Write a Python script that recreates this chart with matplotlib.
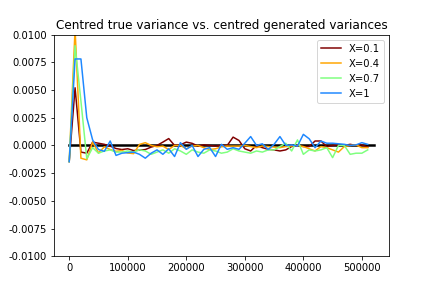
import numpy as np
import matplotlib.pyplot as plt

steps = np.arange(0, 530000, 10000)      # 0 .. 520000
true_var = np.zeros(len(steps))          # centred true variance

# centred generated variances (units of 1e-4), one value per 10000 steps
var_01 = [-14.6, 52, -6, -7, 3, 2, 1, -0.6, -2.8, -3.7, -3, -4.6, -4.3, -3.7, -1.5, 0,
          3, 6.2, 0, 0.6, 3, 1.9, -0.6, 0.6, 0, -0.6, 0, 0, 7.5, 4.5, -3, -5,
          0, -2, -3.5, -4, -5, -4, -1, 0, -1, -1, 4, 4, -1, 0, 0.5, 0, 1, 0, 0.5, -1.5]
var_04 = [-14.6, 105, -11.5, -13, 3, -6.8, -1.2, -3.7, -5.3, -4.6, -6.8, -7.4, 0.9, 2.5, 0, -1.2,
          -0.6, -3.7, 0, 0, -3, -0.6, 0, -2, -3.7, -3, -1.2, -0.6, -0.6, -0.6, 0, -1,
          -2, -0.5, -1, -1.5, -2, -1, -0.5, 0, -1, -3, -5, -1, -2, -4, -6, -1, 0, 0.5, -2, -2]
var_07 = [-14.6, 90, 40, -12, -2, -7, -5, -4, -6, -6, -5, -6, -4, -5, -8, -6,
          -4, -7, -3, -5, -8, -4, -6, -7, -4, -5, -7, -6, -3, -5, -6, -7,
          -5, -6, -4, -4, -1, 2, -5, 5, -8, -4, -5, -4, -2, -11, 0, 0, -8, -7, -7, -4]
var_1 = [-14.6, 78, 78, 25, 5, -3.7, -5.3, 4, -9, -7, -6.5, -6, -8, -11.5, -7, -4,
         -8, -3, -10, 2.5, -3.5, 0, -10, -3.5, -2, -10, 1, -3.5, -2, -3.5, 2, 8,
         0, 1.5, -3.7, 1, 8, 0, 0.5, -0.6, 10, 6, -2, 4, 2, 2, 1.5, 1, 0, 0.5, 2.5, 1]

series = [(var_01, 'X=0.1', '#800000'),
          (var_04, 'X=0.4', '#ffa500'),
          (var_07, 'X=0.7', '#7fff7f'),
          (var_1, 'X=1', '#1e88ff')]

fig, ax = plt.subplots(figsize=(6, 4), dpi=72)
ax.plot(steps, true_var, color='black', lw=2.5)
for vals, lab, col in series:
    ax.plot(steps[:len(vals)], np.array(vals) * 1e-4, color=col, lw=1.5, label=lab)

ax.set_ylim(-0.01, 0.01)
ax.set_yticks(np.arange(-0.01, 0.0101, 0.0025))
ax.yaxis.set_major_formatter(plt.FormatStrFormatter('%.4f'))
ax.set_title('Centred true variance vs. centred generated variances')
ax.legend(loc='upper right')
fig.savefig('out.png')
